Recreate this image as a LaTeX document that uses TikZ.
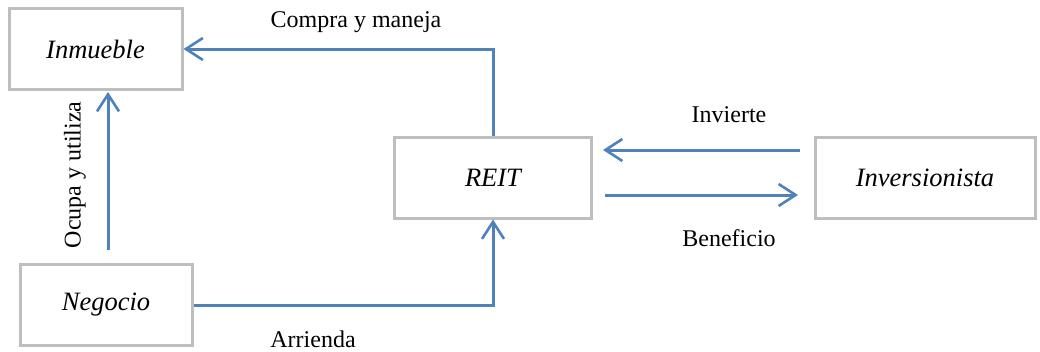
\documentclass[tikz,border=0pt]{standalone}
\usepackage{fontspec}
\setmainfont{Liberation Serif}
\usetikzlibrary{arrows.meta}
\definecolor{lineblue}{RGB}{79,129,189}
\definecolor{boxgray}{RGB}{190,190,190}
\begin{document}
\begin{tikzpicture}[x=1pt,y=-1pt,
  box/.style={draw=boxgray,line width=3pt,fill=white,minimum height=81pt,inner sep=0pt,font=\fontsize{26.5}{30}\selectfont\itshape},
  conn/.style={draw=lineblue,line width=3pt,line join=miter,-{Straight Barb[length=17pt,width=22pt,line width=2.6pt]}},
  lbl/.style={font=\fontsize{24}{28}\selectfont,inner sep=0pt}]
\useasboundingbox[fill=white] (0,0) rectangle (1040,351);
\node[box,minimum width=173pt] (inm) at (95.5,49) {Inmueble};
\node[box,minimum width=197pt] (reit) at (493,177.5) {REIT};
\node[box,minimum width=220pt] (inv) at (925,177.5) {Inversionista};
\node[box,minimum width=172pt] (neg) at (106,305) {Negocio};
\coordinate (ocA) at (108,250);
\coordinate (ocB) at (108,92);
\coordinate (ivA) at (800,150);
\coordinate (ivB) at (603,150);
\coordinate (bfA) at (605,195);
\coordinate (bfB) at (798,195);
\draw[conn] (reit.north) -- (reit.north |- inm.east) -- (inm.east);
\draw[conn] (neg.east) -- (reit.south |- neg.east) -- (reit.south);
\draw[conn] (ocA) -- (ocB);
\draw[conn] (ivA) -- (ivB);
\draw[conn] (bfA) -- (bfB);
\node[lbl] (t1) at (356,22) {Compra y maneja};
\node[lbl,rotate=90] (t2) at (75,175) {Ocupa y utiliza};
\node[lbl] (t3) at (729,115) {Invierte};
\node[lbl] (t4) at (729,238) {Beneficio};
\node[lbl] (t5) at (313,339) {Arrienda};
\end{tikzpicture}
\end{document}
